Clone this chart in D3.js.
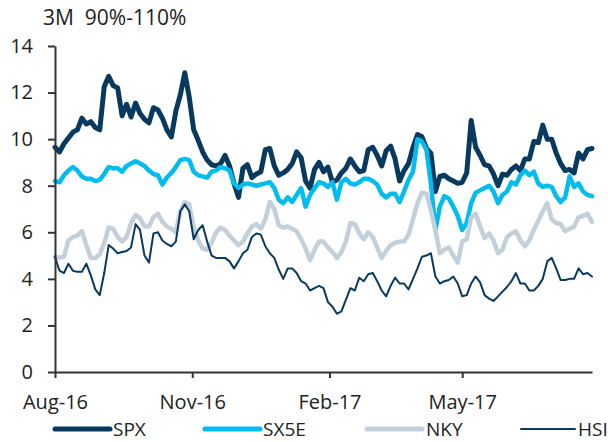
<!DOCTYPE html>
<html>
<head>
<meta charset="utf-8">
<script src="https://cdn.jsdelivr.net/npm/d3@7"></script>
<style>
  body { margin: 0; background: #fff; }
  svg { display: block; font-family: "Open Sans", sans-serif; }
</style>
</head>
<body>
<div id="chart"></div>
<script>
// readings taken every 3 calendar days from 1 Aug 2016
const startDate = new Date(2016, 7, 1);
const stepDays = 3;

const seriesNames = ["SPX", "SX5E", "NKY", "HSI"];

const spx = [9.65, 9.45, 9.8, 10.05, 10.3, 10.4, 10.9, 10.65, 10.75, 10.5, 10.4,
  12.25, 12.7, 12.3, 12.2, 11.0, 11.5, 10.95, 11.55, 11.1, 10.85,
  10.7, 11.35, 11.25, 10.9, 10.4, 10.1, 11.2, 11.9, 12.85, 11.8,
  10.4, 9.95, 9.45, 9.1, 8.9, 8.85, 8.95, 9.3, 8.85, 8.1,
  7.5, 8.75, 8.9, 8.35, 8.5, 8.6, 9.55, 9.6, 8.85, 8.45,
  8.55, 8.7, 8.95, 9.45, 9.2, 8.2, 7.9, 8.7, 9.0, 8.6,
  8.8, 8.15, 8.25, 8.55, 8.75, 9.15, 8.85, 8.6, 8.65, 9.55,
  9.65, 9.3, 8.85, 9.5, 9.7, 9.15, 8.2, 8.65, 8.95, 9.65,
  10.2, 10.1, 9.6, 9.4, 7.75, 8.4, 8.45, 8.3, 8.2, 8.1,
  8.15, 8.55, 10.8, 9.65, 9.3, 8.9, 8.85, 8.5, 8.0, 8.5,
  8.45, 8.7, 8.85, 8.65, 9.15, 9.15, 9.9, 9.85, 10.6, 10.0,
  10.0, 9.4, 8.95, 8.65, 8.7, 8.55, 9.4, 9.15, 9.55, 9.6];

const sx5e = [8.2, 8.15, 8.45, 8.65, 8.8, 8.65, 8.4, 8.3, 8.3, 8.2, 8.25,
  8.5, 8.8, 8.75, 8.75, 8.6, 8.85, 8.95, 9.05, 8.95, 8.85,
  8.65, 8.5, 8.45, 8.05, 8.35, 8.55, 8.8, 9.1, 9.15, 9.1,
  8.6, 8.45, 8.4, 8.35, 8.6, 8.65, 8.8, 8.75, 8.65, 8.1,
  7.9, 8.05, 8.1, 8.05, 8.0, 8.05, 8.1, 8.15, 7.9, 7.4,
  7.25, 7.5, 7.3, 7.6, 7.9, 7.1, 7.6, 7.9, 8.15, 8.1,
  7.95, 8.15, 7.4, 8.15, 8.3, 8.1, 8.05, 8.15, 8.3, 8.3,
  8.2, 8.05, 7.65, 7.5, 7.65, 7.65, 7.3, 7.75, 8.25, 8.6,
  10.0, 9.9, 9.55, 8.1, 6.1, 7.1, 7.55, 7.45, 7.1, 6.7,
  6.1, 6.4, 7.25, 7.7, 7.8, 7.9, 8.0, 7.75, 7.25, 7.6,
  7.75, 8.15, 8.05, 8.45, 8.65, 8.45, 8.6, 8.1, 7.95, 8.0,
  7.95, 7.55, 7.3, 7.5, 8.4, 7.95, 8.1, 7.75, 7.6, 7.55];

const nky = [4.95, 4.9, 4.95, 5.65, 5.8, 5.85, 6.05, 5.45, 4.9, 4.9, 5.05,
  5.55, 6.2, 6.15, 5.8, 5.6, 5.8, 6.4, 6.75, 6.6, 6.25,
  6.25, 6.65, 6.8, 6.45, 6.25, 6.15, 6.0, 6.9, 7.3, 7.2,
  6.2, 5.65, 5.3, 5.25, 5.55, 6.0, 6.2, 6.1, 5.85, 5.65,
  5.45, 5.6, 5.95, 6.25, 6.35, 6.15, 6.55, 7.3, 7.0, 6.3,
  6.2, 6.25, 6.15, 6.05, 5.7, 5.3, 4.8, 5.25, 5.6, 5.6,
  5.35, 5.15, 4.9, 5.15, 5.6, 6.4, 6.35, 5.95, 5.7, 6.0,
  5.8, 5.35, 4.9, 5.2, 5.45, 5.55, 5.6, 5.6, 5.9, 6.55,
  7.25, 7.7, 7.65, 6.95, 6.1, 5.1, 5.25, 5.35, 5.0, 4.7,
  5.6, 5.7, 6.65, 6.8, 6.25, 5.75, 5.95, 5.65, 5.1, 5.25,
  5.8, 5.95, 6.05, 5.65, 5.4, 5.65, 6.1, 6.5, 6.9, 7.25,
  6.55, 6.4, 6.35, 6.05, 6.15, 6.25, 6.65, 6.7, 6.8, 6.45];

const hsi = [4.95, 4.35, 4.25, 4.65, 4.35, 4.3, 4.3, 4.65, 4.15, 3.55, 3.3,
  4.25, 5.45, 5.3, 5.1, 5.15, 5.2, 5.35, 6.35, 6.1, 5.0,
  4.7, 5.95, 6.0, 5.65, 5.5, 5.4, 5.6, 6.9, 7.2, 6.9,
  5.7, 6.1, 6.3, 5.6, 5.0, 4.9, 4.9, 4.9, 4.75, 4.45,
  4.75, 5.1, 5.25, 5.8, 5.95, 5.9, 5.4, 5.1, 4.9, 4.4,
  4.0, 4.45, 4.45, 4.25, 3.9, 3.8, 3.5, 3.6, 3.7, 3.6,
  3.0, 2.8, 2.5, 2.6, 3.1, 3.6, 3.5, 4.05, 3.9, 4.2,
  4.25, 3.9, 3.5, 3.25, 3.7, 4.05, 3.8, 3.8, 3.55, 4.0,
  4.45, 4.95, 5.0, 5.1, 4.1, 3.8, 3.9, 3.95, 4.1, 3.8,
  3.25, 3.3, 3.8, 4.1, 3.85, 3.3, 3.15, 3.05, 3.25, 3.45,
  3.65, 3.9, 4.25, 3.8, 3.8, 3.5, 3.5, 3.7, 4.0, 4.75,
  4.9, 4.45, 3.95, 3.95, 4.0, 4.0, 4.45, 4.2, 4.25, 4.1];

const yTicks = [0, 2, 4, 6, 8, 10, 12, 14];
const xTickDates = ["2016-08-01", "2016-11-01", "2017-02-01", "2017-05-01"];

const seriesValues = [spx, sx5e, nky, hsi];
const colors = ["#073a5e", "#00bcef", "#c4d0d9", "#073a5e"];
const widths = [5, 4.5, 4.5, 2];

const W = 608, H = 442;
const plot = { left: 55, right: 592, top: 46, bottom: 372 };

const svg = d3.select("#chart").append("svg")
  .attr("width", W)
  .attr("height", H);

const dates = spx.map((_, i) => d3.timeDay.offset(startDate, i * stepDays));
const parse = d3.timeParse("%Y-%m-%d");

const x = d3.scaleTime()
  .domain(d3.extent(dates))
  .range([plot.left, plot.right]);

const y = d3.scaleLinear()
  .domain([0, 14])
  .range([plot.bottom, plot.top]);

// title
svg.append("text")
  .attr("x", 43)
  .attr("y", 25)
  .style("white-space", "pre")
  .style("font-size", "21px")
  .attr("fill", "#222")
  .text("3M  90%-110%");

// lines
const line = d3.line()
  .x((d, i) => x(dates[i]))
  .y(d => y(d));

seriesValues.forEach((vals, k) => {
  svg.append("path")
    .datum(vals)
    .attr("fill", "none")
    .attr("stroke", colors[k])
    .attr("stroke-width", widths[k])
    .attr("stroke-linejoin", "round")
    .attr("stroke-linecap", "round")
    .attr("d", line);
});

// axes
const yAxis = svg.append("g")
  .attr("transform", `translate(${plot.left},0)`)
  .call(d3.axisLeft(y).tickValues(yTicks).tickSize(7).tickSizeOuter(0).tickPadding(15));

const xAxis = svg.append("g")
  .attr("transform", `translate(0,${plot.bottom})`)
  .call(d3.axisBottom(x)
    .tickValues(xTickDates.map(parse))
    .tickFormat(d3.timeFormat("%b-%y"))
    .tickSize(6).tickSizeOuter(0).tickPadding(17));

[yAxis, xAxis].forEach(g => {
  g.select(".domain").attr("stroke", "#333").attr("stroke-width", 2);
  g.selectAll(".tick line").attr("stroke", "#333").attr("stroke-width", 2);
  g.selectAll(".tick text")
    .attr("fill", "#222")
    .style("font-size", "20px")
    .style("font-family", "'Open Sans', sans-serif");
});

// legend
const legendLines = [[55, 110], [205, 260], [367, 422], [521, 575]];
const legendText = [113, 263, 426, 578];
const legY = 429;

seriesNames.forEach((name, k) => {
  svg.append("line")
    .attr("x1", legendLines[k][0])
    .attr("x2", legendLines[k][1])
    .attr("y1", legY).attr("y2", legY)
    .attr("stroke", colors[k])
    .attr("stroke-width", k === 3 ? 2 : 5)
    .attr("stroke-linecap", "round");
  svg.append("text")
    .attr("x", legendText[k])
    .attr("y", legY)
    .attr("dy", "0.35em")
    .attr("fill", "#222")
    .style("font-size", "19px")
    .text(name);
});
</script>
</body>
</html>
